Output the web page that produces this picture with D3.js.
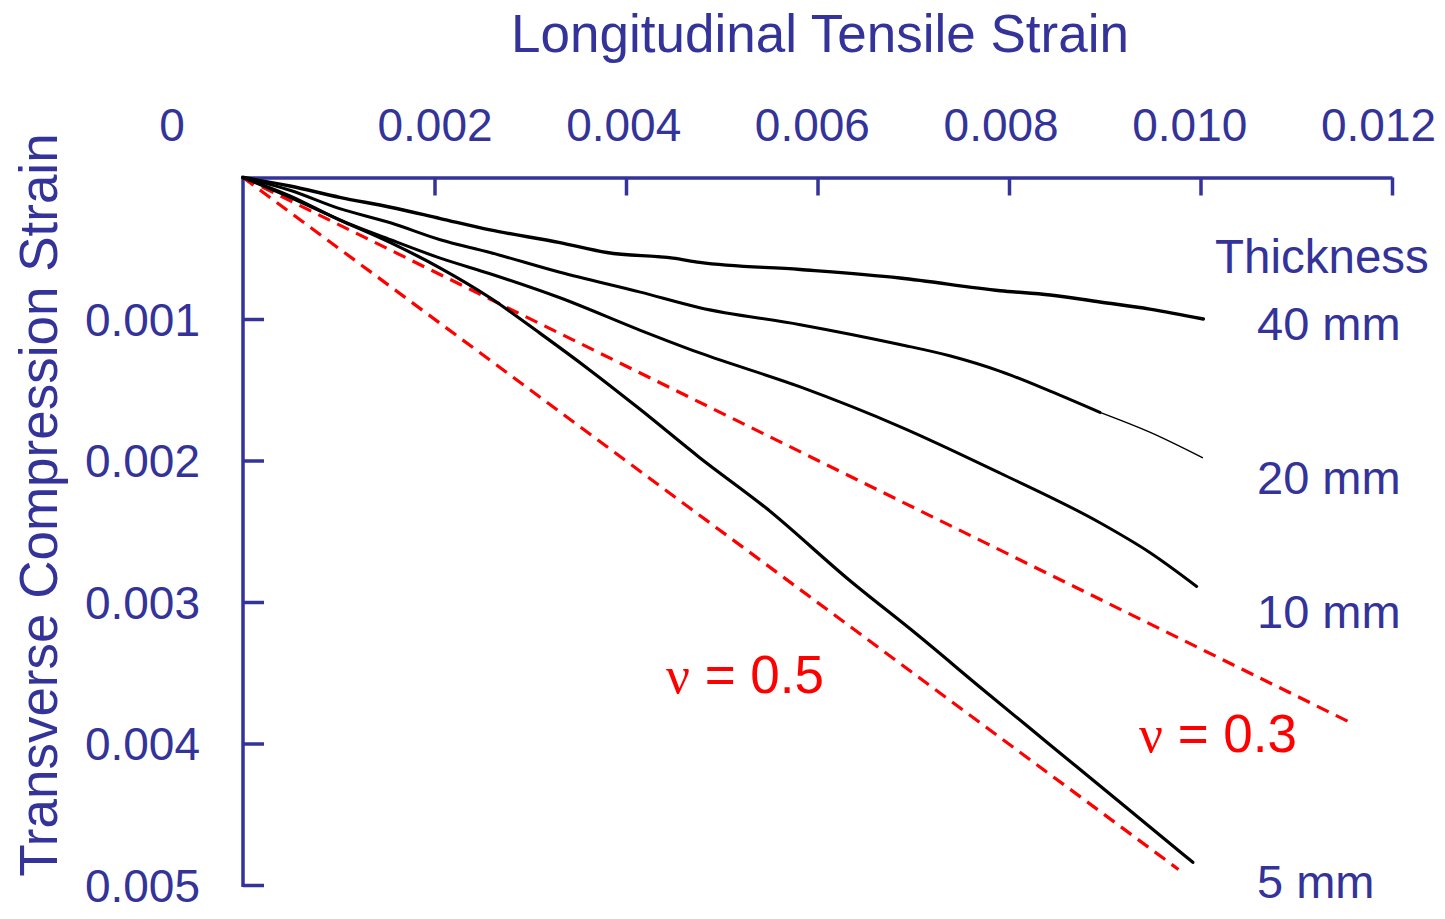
<!DOCTYPE html>
<html>
<head>
<meta charset="utf-8">
<script src="https://cdn.jsdelivr.net/npm/d3@7"></script>
<style>
  html, body { margin: 0; padding: 0; background: #fff; }
  svg { display: block; }
</style>
</head>
<body>
<svg id="chart" width="1445" height="919"></svg>
<script>
// ─── Data (strain values) ────────────────────────────────────────────────────
const xTicks = [0.002, 0.004, 0.006, 0.008, 0.010, 0.012];
const yTicks = [0.001, 0.002, 0.003, 0.004, 0.005];

// longitudinal strain (x) / transverse compression strain (y), in units of 1e-3
const t40 = [
  [0, 0], [0.49, 0.06], [1.01, 0.14], [1.54, 0.21], [2.06, 0.29], [2.58, 0.37],
  [3.31, 0.46], [3.80, 0.53], [4.49, 0.57], [4.77, 0.60], [5.82, 0.65], [6.86, 0.71],
  [7.91, 0.80], [8.43, 0.83], [8.95, 0.88], [9.47, 0.93], [10.03, 1.00]
];
const t20 = [
  [0, 0], [0.49, 0.09], [1.01, 0.22], [1.54, 0.32], [2.06, 0.44], [2.58, 0.53],
  [3.31, 0.67], [4.15, 0.81], [4.77, 0.92], [5.82, 1.04], [6.86, 1.18], [7.38, 1.26],
  [7.91, 1.37], [8.43, 1.51], [8.95, 1.66], [9.47, 1.80], [10.02, 1.98]
];
const t10 = [
  [0, 0], [0.49, 0.13], [1.01, 0.30], [1.54, 0.44], [2.06, 0.57], [2.58, 0.68],
  [3.31, 0.85], [4.15, 1.08], [4.77, 1.24], [5.82, 1.48], [6.86, 1.76], [7.91, 2.09],
  [8.95, 2.44], [9.47, 2.65], [9.96, 2.89]
];
const t5 = [
  [0, 0], [0.39, 0.11], [1.01, 0.30], [1.54, 0.46], [2.06, 0.64], [2.58, 0.85],
  [3.10, 1.10], [3.62, 1.36], [4.15, 1.64], [4.77, 1.98], [5.47, 2.34], [6.34, 2.85],
  [7.04, 3.23], [7.73, 3.62], [8.43, 4.01], [9.13, 4.40], [9.92, 4.84]
];
const nu05 = [[0, 0], [9.77, 4.89]];
const nu03 = [[0, 0], [11.56, 3.85]];

const thicknessLabels = ['40 mm', '20 mm', '10 mm', '5 mm'];
const nuLabels = ['0.5', '0.3'];

// ─── Style ───────────────────────────────────────────────────────────────────
const C = {
  axis: '#333399',
  curve: '#000000',
  red: '#FF0000',
  font: '"Liberation Sans", Arial, Helvetica, sans-serif',
  serif: '"Liberation Serif", "Times New Roman", serif',
};

const svg = d3.select('#chart');

const x = d3.scaleLinear().domain([0, 0.012]).range([243, 1392]);
const y = d3.scaleLinear().domain([0, 0.005]).range([177.5, 885]);
const fmt = d3.format('.3f');

// ─── Axes ────────────────────────────────────────────────────────────────────
const xAxis = svg.append('g').attr('transform', `translate(0,${y(0)})`)
  .call(d3.axisTop(x).tickValues(xTicks).tickFormat(fmt)
    .tickSizeInner(-18).tickSizeOuter(0).tickPadding(37));

const yAxis = svg.append('g').attr('transform', `translate(${x(0)},0)`)
  .call(d3.axisLeft(y).tickValues(yTicks).tickFormat(fmt)
    .tickSizeInner(-21).tickSizeOuter(0).tickPadding(43));

[xAxis, yAxis].forEach((g) => {
  g.select('.domain').attr('stroke', C.axis).attr('stroke-width', 3.5);
  g.selectAll('.tick line').attr('stroke', C.axis).attr('stroke-width', 3.5);
  g.selectAll('.tick text')
    .attr('fill', C.axis).attr('font-size', 46).attr('font-family', C.font);
});
yAxis.select('.domain').attr('d', `M0,${y(0) - 1.7}V${y(0.005) + 2}`);
yAxis.selectAll('.tick text').attr('dy', '0.35em');
// top labels drift slightly left of their ticks toward the right end
xAxis.selectAll('.tick text').attr('dx', (d, i) => -i * 2.8);

// zero label sits off to the left of the corner
svg.append('text')
  .attr('x', x(0) - 71).attr('y', y(0) - 37)
  .attr('text-anchor', 'middle').attr('font-size', 46)
  .attr('fill', C.axis).attr('font-family', C.font)
  .text('0');

// Axis titles
svg.append('text')
  .attr('x', 820).attr('y', 52)
  .attr('text-anchor', 'middle').attr('font-size', 53)
  .attr('fill', C.axis).attr('font-family', C.font)
  .text('Longitudinal Tensile Strain');

svg.append('text')
  .attr('transform', 'translate(57,505) rotate(-90)')
  .attr('text-anchor', 'middle').attr('font-size', 53)
  .attr('fill', C.axis).attr('font-family', C.font)
  .text('Transverse Compression Strain');

// ─── Lines ───────────────────────────────────────────────────────────────────
const line = d3.line()
  .x((d) => x(d[0] / 1000))
  .y((d) => y(d[1] / 1000));

// Poisson reference lines (dashed)
[nu05, nu03].forEach((pts) => {
  svg.append('path').datum(pts)
    .attr('d', line.curve(d3.curveLinear))
    .attr('fill', 'none').attr('stroke', C.red)
    .attr('stroke-width', 3.2).attr('stroke-dasharray', '13,8');
});
line.curve(d3.curveMonotoneX);

// Measured curves
const series = [
  { pts: t40, w: 3.4 },
  { pts: t20.filter((d) => d[0] <= 8.95), w: 3.0 },
  { pts: t20.filter((d) => d[0] >= 8.95), w: 1.4 },
  { pts: t10, w: 3.0 },
  { pts: t5,  w: 3.2 },
];
series.forEach((s) => {
  svg.append('path').datum(s.pts)
    .attr('d', line)
    .attr('fill', 'none').attr('stroke', C.curve)
    .attr('stroke-width', s.w)
    .attr('stroke-linejoin', 'round').attr('stroke-linecap', 'round');
});

// ─── Annotations ─────────────────────────────────────────────────────────────
svg.append('text')
  .attr('x', 1215).attr('y', 273)
  .attr('font-size', 47.5).attr('fill', C.axis).attr('font-family', C.font)
  .text('Thickness');

const labelY = [340, 494, 628, 898];
thicknessLabels.forEach((lab, i) => {
  svg.append('text')
    .attr('x', 1257).attr('y', labelY[i])
    .attr('font-size', 47).attr('fill', C.axis).attr('font-family', C.font)
    .text(lab);
});

const nuPos = [[666, 693], [1139, 752]];
nuLabels.forEach((v, i) => {
  const t = svg.append('text')
    .attr('x', nuPos[i][0]).attr('y', nuPos[i][1])
    .attr('font-size', 53).attr('fill', C.red).attr('font-family', C.font);
  t.append('tspan').attr('font-family', C.serif).text('\u03BD');
  t.append('tspan').text(` = ${v}`);
});
</script>
</body>
</html>
